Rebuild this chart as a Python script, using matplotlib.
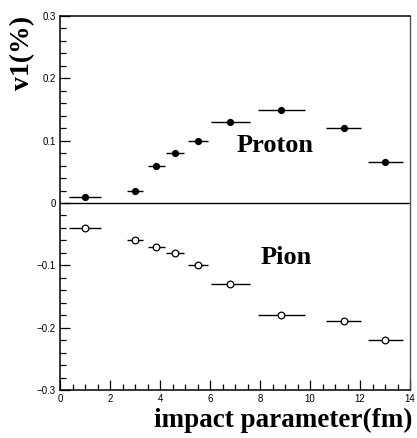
import matplotlib
matplotlib.use("Agg")
import matplotlib.pyplot as plt
from matplotlib.ticker import MultipleLocator

b = [1.0, 3.0, 3.85, 4.6, 5.5, 6.8, 8.85, 11.35, 13.0]
b_err = [0.65, 0.33, 0.33, 0.35, 0.4, 0.78, 0.93, 0.7, 0.7]
v1_proton = [0.01, 0.02, 0.06, 0.08, 0.10, 0.13, 0.15, 0.12, 0.065]
v1_pion = [-0.04, -0.06, -0.07, -0.08, -0.10, -0.13, -0.18, -0.19, -0.22]

fig = plt.figure(figsize=(4.17, 4.38), dpi=100)
ax = fig.add_axes([60/417, 1-390/438, 350/417, 374/438])

ax.errorbar(b, v1_proton, xerr=b_err, fmt='o', color='black', ms=4.2,
            mfc='black', mec='black', elinewidth=1.0, capsize=0)
ax.errorbar(b, v1_pion, xerr=b_err, fmt='o', color='black', ms=4.8,
            mfc='white', mec='black', mew=0.9, elinewidth=1.0, capsize=0)
ax.axhline(0, color='black', lw=1.0)

ax.set_xlim(0, 14)
ax.set_ylim(-0.3, 0.3)
ax.xaxis.set_major_locator(MultipleLocator(2))
ax.xaxis.set_minor_locator(MultipleLocator(0.5))
ax.yaxis.set_major_locator(MultipleLocator(0.1))
ax.yaxis.set_minor_locator(MultipleLocator(0.02))
ax.tick_params(which='both', direction='in', top=False, right=False,
               labelsize=7, width=0.9)
ax.tick_params(which='major', length=7, pad=3)
ax.tick_params(which='minor', length=4)
ax.set_yticks([-0.3, -0.2, -0.1, 0, 0.1, 0.2, 0.3])
ax.set_yticklabels(['\u22120.3', '\u22120.2', '\u22120.1', '0', '0.1', '0.2', '0.3'],
                   family='Liberation Sans')
ax.set_xticks([0, 2, 4, 6, 8, 10, 12, 14])
ax.set_xticklabels(['0', '2', '4', '6', '8', '10', '12', '14'], family='Liberation Sans')

for s in ['left', 'bottom', 'top']:
    ax.spines[s].set_linewidth(1.1)
    ax.spines[s].set_color('black')
ax.spines['right'].set_color('#555555')
ax.spines['right'].set_linewidth(1.0)

ax.text(8.6, 0.0915, 'Proton', family='Liberation Serif', weight='bold',
        fontsize=19, ha='center', va='center')
ax.text(9.06, -0.088, 'Pion', family='Liberation Serif', weight='bold',
        fontsize=19, ha='center', va='center')

fig.text(23/417, 1-16/438, 'v1(%)', family='Liberation Serif', weight='bold',
         fontsize=20, rotation=90, ha='center', va='top')
fig.text(412/417, 1-420/438, 'impact parameter(fm)', family='Liberation Serif',
         weight='bold', fontsize=19.5, ha='right', va='center')

fig.savefig('out.png', dpi=100)
